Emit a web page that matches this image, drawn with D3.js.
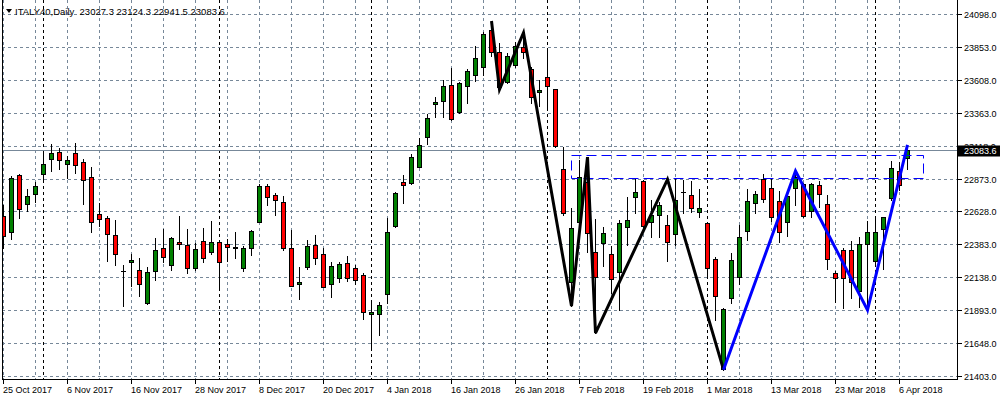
<!DOCTYPE html>
<html><head><meta charset="utf-8">
<script src="https://cdn.jsdelivr.net/npm/d3@7"></script>
<style>html,body{margin:0;padding:0;background:#fff;} svg{display:block;} text{font-family:"Liberation Sans",Arial,sans-serif;}</style>
</head><body><svg id="c" width="1000" height="400"></svg>
<script>
const symbolTitle = "ITALY40,Daily  23027.3 23124.3 22941.5 23083.6";
const dates = [
"2017-10-25","2017-10-26","2017-10-27","2017-10-30","2017-10-31",
"2017-11-01","2017-11-02","2017-11-03","2017-11-06","2017-11-07","2017-11-08","2017-11-09","2017-11-10",
"2017-11-13","2017-11-14","2017-11-15","2017-11-16","2017-11-17","2017-11-20","2017-11-21","2017-11-22",
"2017-11-23","2017-11-24","2017-11-27","2017-11-28","2017-11-29","2017-11-30",
"2017-12-01","2017-12-04","2017-12-05","2017-12-06","2017-12-07","2017-12-08","2017-12-11","2017-12-12",
"2017-12-13","2017-12-14","2017-12-15","2017-12-18","2017-12-19","2017-12-20","2017-12-21","2017-12-22",
"2017-12-27","2017-12-28","2017-12-29",
"2018-01-02","2018-01-03","2018-01-04","2018-01-05","2018-01-08","2018-01-09","2018-01-10","2018-01-11",
"2018-01-12","2018-01-15","2018-01-16","2018-01-17","2018-01-18","2018-01-19","2018-01-22","2018-01-23",
"2018-01-24","2018-01-25","2018-01-26","2018-01-29","2018-01-30","2018-01-31",
"2018-02-01","2018-02-02","2018-02-05","2018-02-06","2018-02-07","2018-02-08","2018-02-09","2018-02-12",
"2018-02-13","2018-02-14","2018-02-15","2018-02-16","2018-02-19","2018-02-20","2018-02-21","2018-02-22",
"2018-02-23","2018-02-26","2018-02-27","2018-02-28",
"2018-03-01","2018-03-02","2018-03-05","2018-03-06","2018-03-07","2018-03-08","2018-03-09","2018-03-12",
"2018-03-13","2018-03-14","2018-03-15","2018-03-16","2018-03-19","2018-03-20","2018-03-21","2018-03-22",
"2018-03-23","2018-03-26","2018-03-27","2018-03-28","2018-03-29",
"2018-04-03","2018-04-04","2018-04-05","2018-04-06","2018-04-09"];

const open = [22594,22473,22899,22681,22756,22905,23016,23068,22979,23061,22994,22882,22607,22577,22450,22184,22254,22190,21949,22182,
22354,22227,22397,22376,22205,22406,22324,22398,22383,22361,22205,22354,22552,22818,22751,22698,22354,22086,22217,22376,
22309,22090,22135,22242,22205,22153,21862,21867,22016,22522,22845,22838,22961,23180,23426,23448,23567,23366,23560,23642,
23701,23979,23813,23594,23718,23855,23686,23515,23627,23537,22942,22105,22552,22850,22328,22391,22309,22180,22510,22733,
22855,22552,22599,22527,22458,22771,22748,22622,22540,22274,21455,21981,22138,22482,22689,22867,22800,22706,22552,22800,
22832,22634,22825,22681,22168,22341,22341,22038,22383,22261,22495,22730,22929,23027.3];
const high = [22676,22892,22909,22795,22845,23068,23130,23098,23041,23135,23019,22959,22691,22594,22564,22229,22311,22282,22215,22430,
22497,22436,22594,22497,22391,22503,22557,22406,22423,22473,22369,22490,22832,22832,22763,22743,22490,22212,22416,22453,
22354,22250,22250,22296,22227,22168,21952,21952,22576,22775,22899,23056,23173,23354,23480,23607,23694,23590,23686,23862,
23962,24046,23882,23805,23892,23959,23706,23607,23825,23540,23110,22652,23011,23033,22572,22510,22371,22564,22733,22875,
22862,22713,22698,22602,22866,22862,22857,22793,22542,22291,21911,22316,22527,22793,22780,22907,22875,22780,22765,22929,
22840,22838,22857,22751,22185,22354,22408,22440,22559,22577,22590,23004,22998,23124.3];
const low = [22356,22425,22582,22631,22696,22870,22931,22946,22879,22917,22686,22477,22520,22261,22232,21926,22075,22001,21937,22116,
22252,22190,22349,22168,22190,22250,22311,22056,22261,22282,22187,22304,22546,22676,22604,22341,22070,21976,22202,22237,
22064,21991,22105,22113,22090,21830,21604,21711,21944,22515,22693,22835,22957,23128,23333,23331,23309,23359,23433,23601,
23642,23785,23537,23587,23703,23768,23433,23413,23408,23110,22602,21924,22542,22328,21723,22222,22019,21894,22378,22614,
22510,22440,22440,22261,22378,22614,22626,22589,22142,21820,21450,21944,22088,22416,22614,22701,22559,22398,22447,22676,
22584,22589,22663,22200,21956,21911,21981,21914,21894,22229,22197,22713,22788,22941.5];
const close = [22447,22875,22644,22743,22815,22981,23063,23009,23009,22972,22860,22547,22570,22458,22309,22182,22267,22090,22175,22339,
22287,22428,22386,22205,22346,22279,22398,22250,22361,22358,22354,22482,22818,22733,22711,22358,22075,22101,22369,22284,
22068,22220,22235,22135,22116,21882,21877,21929,22473,22763,22823,23031,23121,23322,23441,23560,23319,23582,23671,23768,
23947,23813,23557,23788,23862,23817,23482,23530,23560,23115,22614,22503,22882,22470,22142,22465,22123,22540,22562,22771,
22520,22602,22674,22403,22713,22770,22652,22652,22205,21999,21900,22267,22440,22708,22756,22718,22584,22473,22743,22887,
22596,22832,22756,22272,22130,22135,22105,22383,22473,22473,22584,22949,22825,23083.6];

const priceTicks = [21403,21648,21893,22138,22383,22628,22873,23118,23363,23608,23853,24098];

const zigzagBlackDates = ["2018-01-23","2018-01-24","2018-01-29","2018-02-06","2018-02-08","2018-02-09","2018-02-22","2018-03-05"];
const zigzagBlackPrices = [24046,23537,23959,21924,23033,21723,22867,21450];
const zigzagBlueDates = ["2018-03-05","2018-03-16","2018-03-29","2018-04-09"];
const zigzagBluePrices = [21450,22929,21894,23124.3];

// dashed rectangle: start bar index, end bar index (extends into future), price top/bottom
const boxBars = [71, 115];
const boxPrices = [23050, 22880];

const monthNames = ["Jan","Feb","Mar","Apr","May","Jun","Jul","Aug","Sep","Oct","Nov","Dec"];

const svg = d3.select("#c");
const n = dates.length;
const plot = {left:2, right:957, top:0, bottom:379};
const x = d3.scaleLinear().domain([0, n-1]).range([3.5, 3.5 + 8*(n-1)]);
const y = d3.scaleLinear().domain([21403, 24098]).range([376, 14]);
const idx = d => dates.indexOf(d);
const py = v => Math.round(y(v)) + 0.5;
const GRID = "#778899";

svg.append("rect").attr("width",1000).attr("height",400).attr("fill","#fff");

svg.append("defs").append("clipPath").attr("id","clip")
  .append("rect").attr("x",plot.left+1).attr("y",plot.top).attr("width",plot.right-plot.left-1).attr("height",plot.bottom-plot.top);

const g = svg.append("g").attr("clip-path","url(#clip)");

// horizontal grid
g.selectAll("line.hg").data(priceTicks).enter().append("line")
  .attr("x1",plot.left).attr("x2",plot.right)
  .attr("y1",d=>py(d)).attr("y2",d=>py(d))
  .attr("stroke",GRID).attr("stroke-dasharray","3,3");

// vertical grid every 4 bars
const vgrid = d3.range(0, n, 4);
g.selectAll("line.vg").data(vgrid).enter().append("line")
  .attr("x1",d=>x(d)).attr("x2",d=>x(d))
  .attr("y1",plot.top).attr("y2",plot.bottom)
  .attr("stroke",GRID).attr("stroke-dasharray","3,3");

// month separators
const seps = d3.range(1,n).filter(i => dates[i].slice(0,7) !== dates[i-1].slice(0,7));
g.selectAll("line.sep").data(seps).enter().append("line")
  .attr("x1",d=>x(d)).attr("x2",d=>x(d))
  .attr("y1",plot.top).attr("y2",plot.bottom)
  .attr("stroke","#000").attr("stroke-dasharray","3,3");

// current price line
const last = close[n-1];
g.append("line").attr("x1",plot.left).attr("x2",plot.right)
  .attr("y1",py(last)).attr("y2",py(last)).attr("stroke",GRID);

// candles
const bars = d3.range(n);
const cg = g.append("g");
bars.forEach(i => {
  const cx = x(i);
  cg.append("line").attr("x1",cx).attr("x2",cx)
    .attr("y1",Math.round(y(high[i]))).attr("y2",Math.round(y(low[i]))+1)
    .attr("stroke","#000");
  const top = Math.round(y(Math.max(open[i],close[i])));
  const bot = Math.round(y(Math.min(open[i],close[i])));
  if (bot - top < 1) {
    cg.append("line").attr("x1",cx-2.5).attr("x2",cx+2.5)
      .attr("y1",top+0.5).attr("y2",top+0.5).attr("stroke","#000");
  } else {
    cg.append("rect").attr("x",cx-2).attr("width",4)
      .attr("y",top+0.5).attr("height",bot-top)
      .attr("fill", close[i] >= open[i] ? "#008000" : "#ff0000")
      .attr("stroke","#000");
  }
});

// dashed box
g.append("rect")
  .attr("x",x(boxBars[0])).attr("width",x(boxBars[1])-x(boxBars[0]))
  .attr("y",py(boxPrices[0])).attr("height",py(boxPrices[1])-py(boxPrices[0]))
  .attr("fill","none").attr("stroke","#0000ff").attr("stroke-dasharray","10,5");

// zigzags
const line = d3.line().x(d=>x(idx(d[0]))).y(d=>y(d[1]));
g.append("path").datum(zigzagBlackDates.map((d,k)=>[d,zigzagBlackPrices[k]]))
  .attr("d",line).attr("fill","none").attr("stroke","#000").attr("stroke-width",3);
g.append("path").datum(zigzagBlueDates.map((d,k)=>[d,zigzagBluePrices[k]]))
  .attr("d",line).attr("fill","none").attr("stroke","#0000ff").attr("stroke-width",3);

// frame
svg.append("line").attr("x1",plot.left+0.5).attr("x2",plot.left+0.5).attr("y1",plot.top).attr("y2",plot.bottom+0.5).attr("stroke","#000");
svg.append("line").attr("x1",plot.right+0.5).attr("x2",plot.right+0.5).attr("y1",plot.top).attr("y2",plot.bottom+0.5).attr("stroke","#000");
svg.append("line").attr("x1",plot.left).attr("x2",plot.right+1).attr("y1",plot.bottom+0.5).attr("y2",plot.bottom+0.5).attr("stroke","#000");

// right axis
const ra = svg.append("g");
priceTicks.forEach(t => {
  ra.append("line").attr("x1",plot.right+1).attr("x2",plot.right+5).attr("y1",py(t)).attr("y2",py(t)).attr("stroke","#000");
  ra.append("text").attr("x",plot.right+7).attr("y",py(t)+3.5)
    .attr("font-size","9px").attr("fill","#000").text(d3.format(".1f")(t));
});
// price label
const pl = py(last);
ra.append("rect").attr("x",plot.right+1).attr("y",pl-5).attr("width",1000-plot.right-1).attr("height",11).attr("fill","#000");
ra.append("text").attr("x",plot.right+7).attr("y",pl+3.5).attr("font-size","9px").attr("fill","#fff").text(d3.format(".1f")(last));

// date axis
const labelIdx = d3.range(0, n, 8);
const fmt = s => { const [yy,mm,dd] = s.split("-"); return (+dd) + " " + monthNames[+mm-1] + " " + yy; };
labelIdx.forEach(i => {
  svg.append("line").attr("x1",x(i)).attr("x2",x(i)).attr("y1",plot.bottom+1).attr("y2",plot.bottom+5).attr("stroke","#000");
  svg.append("text").attr("x",x(i)-0.5).attr("y",393).attr("font-size","9px").attr("fill","#000").text(fmt(dates[i]));
});

// title
svg.append("path").attr("d", d3.line()([[6,9],[12,9],[9,13]]) + "Z").attr("fill","#000");
svg.append("text").attr("x",15).attr("y",15).attr("font-size","9.5px").attr("fill","#000")
  .attr("xml:space","preserve").style("white-space","pre").text(symbolTitle);
</script></body></html>
